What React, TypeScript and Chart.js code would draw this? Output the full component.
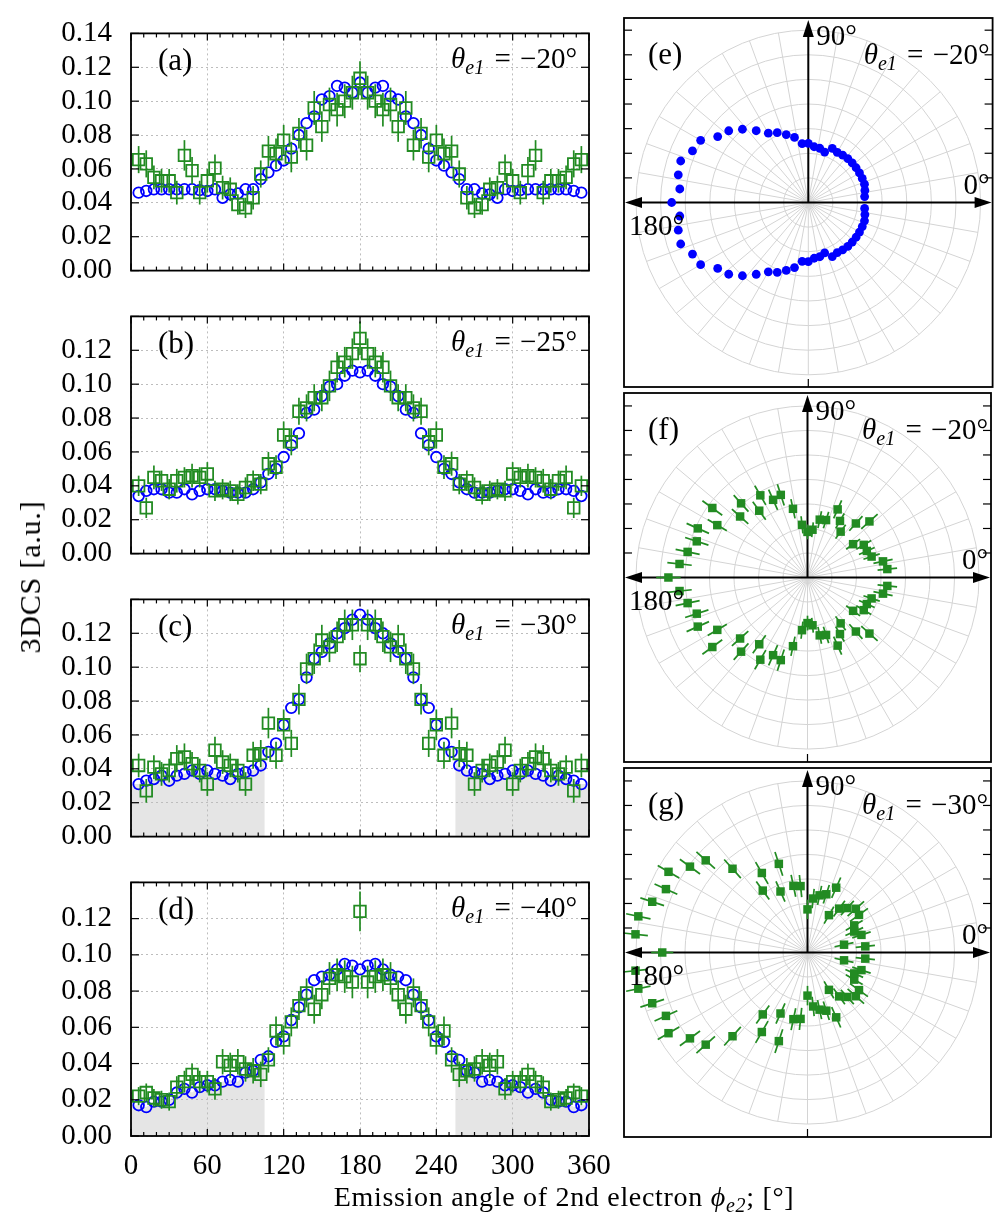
import React, { useEffect, useRef } from "react";
import { Chart, registerables } from "chart.js";
Chart.register(...registerables);

const FONT = '"Liberation Serif", "Times New Roman", serif';
const BLUE = "#0000ff";
const GREEN = "#228b22";

// ---------- data ----------
const ANGLES = [6,12,18,24,30,36,42,48,54,60,66,72,78,84,90,96,102,108,114,120,126,132,138,144,150,156,162,168,174,180,186,192,198,204,210,216,222,228,234,240,246,252,258,264,270,276,282,288,294,300,306,312,318,324,330,336,342,348,354];

const A_THEORY = [0.046,0.047,0.048,0.048,0.048,0.048,0.048,0.048,0.0475,0.047,0.048,0.043,0.045,0.0455,0.048,0.048,0.054,0.058,0.062,0.065,0.072,0.080,0.087,0.091,0.101,0.103,0.109,0.108,0.105,0.111,0.105,0.108,0.109,0.103,0.101,0.091,0.087,0.080,0.072,0.065,0.062,0.058,0.054,0.048,0.048,0.0455,0.045,0.043,0.048,0.047,0.0475,0.048,0.048,0.048,0.048,0.048,0.048,0.047,0.046];
const A_EXP = [0.0655,0.063,0.055,0.053,0.053,0.046,0.068,0.059,0.046,0.053,0.0605,0.049,0.048,0.039,0.037,0.043,0.057,0.0705,0.069,0.077,0.067,0.081,0.074,0.096,0.085,0.098,0.095,0.100,0.105,0.1135,0.105,0.100,0.095,0.098,0.085,0.096,0.074,0.081,0.067,0.077,0.069,0.0705,0.057,0.043,0.037,0.039,0.048,0.049,0.0605,0.053,0.046,0.059,0.068,0.046,0.053,0.053,0.055,0.063,0.0655];
const A_ERR = [0.008,0.008,0.007,0.007,0.007,0.007,0.009,0.008,0.007,0.007,0.008,0.007,0.007,0.006,0.006,0.007,0.008,0.009,0.009,0.009,0.009,0.009,0.009,0.010,0.009,0.010,0.010,0.010,0.010,0.010,0.010,0.010,0.010,0.010,0.009,0.010,0.009,0.009,0.009,0.009,0.009,0.009,0.008,0.007,0.006,0.006,0.007,0.007,0.008,0.007,0.007,0.008,0.009,0.007,0.007,0.007,0.007,0.008,0.008];

const B_THEORY = [0.034,0.037,0.038,0.038,0.036,0.036,0.038,0.035,0.037,0.038,0.038,0.037,0.036,0.036,0.036,0.038,0.042,0.047,0.050,0.057,0.064,0.071,0.083,0.085,0.093,0.0985,0.100,0.105,0.108,0.107,0.108,0.105,0.100,0.0985,0.093,0.085,0.083,0.071,0.064,0.057,0.050,0.047,0.042,0.038,0.036,0.036,0.036,0.037,0.038,0.038,0.037,0.035,0.038,0.036,0.036,0.038,0.038,0.037,0.034];
const B_EXP = [0.040,0.027,0.045,0.043,0.038,0.043,0.045,0.046,0.045,0.047,0.037,0.038,0.037,0.035,0.039,0.043,0.041,0.053,0.051,0.070,0.066,0.084,0.086,0.092,0.092,0.099,0.110,0.113,0.118,0.127,0.118,0.113,0.110,0.099,0.092,0.092,0.086,0.084,0.066,0.070,0.051,0.053,0.041,0.043,0.039,0.035,0.037,0.038,0.037,0.047,0.045,0.046,0.045,0.043,0.038,0.043,0.045,0.027,0.040];
const B_ERR = [0.006,0.006,0.007,0.006,0.006,0.007,0.006,0.007,0.006,0.007,0.006,0.006,0.006,0.006,0.006,0.006,0.006,0.007,0.007,0.008,0.008,0.008,0.008,0.008,0.008,0.009,0.009,0.009,0.009,0.010,0.009,0.009,0.009,0.009,0.008,0.008,0.008,0.008,0.008,0.008,0.007,0.007,0.006,0.006,0.006,0.006,0.006,0.006,0.006,0.007,0.006,0.007,0.006,0.007,0.006,0.006,0.007,0.006,0.006];

const C_THEORY = [0.031,0.033,0.034,0.036,0.033,0.036,0.037,0.039,0.037,0.039,0.037,0.036,0.034,0.037,0.038,0.039,0.042,0.050,0.055,0.066,0.076,0.081,0.094,0.105,0.109,0.114,0.120,0.123,0.128,0.131,0.128,0.123,0.120,0.114,0.109,0.105,0.094,0.081,0.076,0.066,0.055,0.050,0.042,0.039,0.038,0.037,0.034,0.036,0.037,0.039,0.037,0.039,0.037,0.036,0.033,0.036,0.034,0.033,0.031];
const C_EXP = [0.042,0.027,0.041,0.037,0.039,0.046,0.047,0.043,0.039,0.031,0.051,0.044,0.042,0.039,0.031,0.048,0.049,0.067,0.048,0.066,0.055,0.081,0.099,0.105,0.116,0.112,0.118,0.125,0.125,0.105,0.125,0.125,0.118,0.112,0.116,0.105,0.099,0.081,0.055,0.066,0.048,0.067,0.049,0.048,0.031,0.039,0.042,0.044,0.051,0.031,0.039,0.043,0.047,0.046,0.039,0.037,0.041,0.027,0.042];
const C_ERR = [0.007,0.007,0.007,0.007,0.007,0.008,0.008,0.007,0.007,0.007,0.008,0.007,0.007,0.007,0.007,0.008,0.008,0.009,0.008,0.009,0.008,0.009,0.009,0.009,0.009,0.009,0.009,0.009,0.009,0.008,0.009,0.009,0.009,0.009,0.009,0.009,0.009,0.009,0.008,0.009,0.008,0.009,0.008,0.008,0.007,0.007,0.007,0.007,0.008,0.007,0.007,0.007,0.008,0.008,0.007,0.007,0.007,0.007,0.007];

const D_THEORY = [0.017,0.016,0.019,0.019,0.020,0.024,0.026,0.024,0.027,0.028,0.028,0.030,0.031,0.030,0.035,0.036,0.042,0.044,0.052,0.055,0.064,0.071,0.078,0.086,0.088,0.089,0.092,0.095,0.094,0.092,0.094,0.095,0.092,0.089,0.088,0.086,0.078,0.071,0.064,0.055,0.052,0.044,0.042,0.036,0.035,0.030,0.031,0.030,0.028,0.028,0.027,0.024,0.026,0.024,0.020,0.019,0.019,0.016,0.017];
const D_EXP = [0.022,0.024,0.021,0.020,0.019,0.027,0.030,0.034,0.030,0.030,0.026,0.041,0.039,0.041,0.037,0.036,0.034,0.042,0.058,0.053,0.063,0.072,0.079,0.070,0.078,0.087,0.089,0.088,0.085,0.124,0.085,0.088,0.089,0.087,0.078,0.070,0.079,0.072,0.063,0.053,0.058,0.042,0.034,0.036,0.037,0.041,0.039,0.041,0.026,0.030,0.030,0.034,0.030,0.027,0.019,0.020,0.021,0.024,0.022];
const D_ERR = [0.005,0.005,0.005,0.005,0.005,0.006,0.006,0.006,0.006,0.006,0.006,0.007,0.007,0.007,0.007,0.007,0.007,0.007,0.008,0.008,0.008,0.008,0.008,0.008,0.008,0.009,0.009,0.009,0.009,0.011,0.009,0.009,0.009,0.009,0.008,0.008,0.008,0.008,0.008,0.008,0.008,0.007,0.007,0.007,0.007,0.007,0.007,0.007,0.006,0.006,0.006,0.006,0.006,0.006,0.005,0.005,0.005,0.005,0.005];

const X_TICKS = [0, 60, 120, 180, 240, 300, 360];
const Y_TICKS = [0, 0.02, 0.04, 0.06, 0.08, 0.1, 0.12, 0.14];
const SHADE_RANGES = [[0, 105], [255, 360]];
const LEFT_LETTERS = ["(a)", "(b)", "(c)", "(d)"];
const LEFT_THETAS = ["−20", "−25", "−30", "−40"];
const POLAR_LETTERS = ["(e)", "(f)", "(g)"];
const POLAR_THETAS = ["−20", "−20", "−30"];
const POLAR_RMAX = [0.14, 0.14, 0.124];
const X_TITLE = "Emission angle of 2nd electron ";
const Y_TITLE = "3DCS [a.u.]";

// ---------- helpers ----------
function line(ctx: CanvasRenderingContext2D, x1: number, y1: number, x2: number, y2: number) {
  ctx.beginPath();
  ctx.moveTo(x1, y1);
  ctx.lineTo(x2, y2);
  ctx.stroke();
}

function drawTheta(ctx: CanvasRenderingContext2D, xRight: number, yBase: number, val: string) {
  const it = `italic 29px ${FONT}`;
  const sub = `italic 20px ${FONT}`;
  const big = `29px ${FONT}`;
  const eq = " = ";
  const rest = `${val}°`;
  ctx.font = it; const w1 = ctx.measureText("θ").width;
  ctx.font = sub; const w2 = ctx.measureText("e1").width;
  ctx.font = big; const w3 = ctx.measureText(eq).width + 4; const w4 = ctx.measureText(rest).width;
  let x = xRight - (w1 + w2 + 1 + w3 + w4);
  ctx.fillStyle = "#000";
  ctx.textAlign = "left";
  ctx.textBaseline = "alphabetic";
  ctx.font = it; ctx.fillText("θ", x, yBase); x += w1;
  ctx.font = sub; ctx.fillText("e1", x, yBase + 6); x += w2 + 1;
  ctx.font = big; ctx.fillText(eq, x + 2, yBase); x += w3;
  ctx.fillText(rest, x, yBase);
}

function curvePoints(th: number[], lo: number, hi: number) {
  const xs = [0, ...ANGLES, 360];
  const ys = [th[0], ...th, th[th.length - 1]];
  const interp = (v: number) => {
    for (let i = 0; i < xs.length - 1; i++) {
      if (v >= xs[i] && v <= xs[i + 1]) {
        const t = (v - xs[i]) / (xs[i + 1] - xs[i]);
        return ys[i] + t * (ys[i + 1] - ys[i]);
      }
    }
    return ys[ys.length - 1];
  };
  const out: number[][] = [[lo, interp(lo)]];
  xs.forEach((xv, i) => { if (xv > lo && xv < hi) out.push([xv, ys[i]]); });
  out.push([hi, interp(hi)]);
  return out;
}

// ---------- left panels ----------
type LeftProps = { th: number[]; ex: number[]; err: number[]; top: number; idx: number; showTop: boolean; showX: boolean; shade: boolean };

function LeftPanel(p: LeftProps) {
  const ref = useRef<HTMLCanvasElement>(null);
  const PAD_T = 20, PLOT_H = 270, PAD_R = 40;
  const PAD_B = p.showX ? 62 : 20;
  const W = 589 + PAD_R;
  const H = PAD_T + PLOT_H + PAD_B;
  useEffect(() => {
    const plugin = {
      id: "leftDeco",
      beforeDraw(chart: any) {
        if (!p.shade) return;
        const { ctx, scales: { x, y } } = chart;
        ctx.save();
        ctx.fillStyle = "#e5e5e5";
        for (const [lo, hi] of SHADE_RANGES) {
          const pts = curvePoints(p.th, lo, hi);
          ctx.beginPath();
          ctx.moveTo(x.getPixelForValue(lo), y.getPixelForValue(0));
          for (const [px, py] of pts) ctx.lineTo(x.getPixelForValue(px), y.getPixelForValue(py));
          ctx.lineTo(x.getPixelForValue(hi), y.getPixelForValue(0));
          ctx.closePath();
          ctx.fill();
        }
        ctx.restore();
      },
      afterDatasetDraw(chart: any, args: any) {
        if (args.index !== 0) return;
        const { ctx, scales: { x, y } } = chart;
        ctx.save();
        ctx.strokeStyle = GREEN;
        ctx.lineWidth = 1.7;
        ANGLES.forEach((a, i) => {
          const px = x.getPixelForValue(a);
          line(ctx, px, y.getPixelForValue(p.ex[i] - p.err[i]), px, y.getPixelForValue(p.ex[i] + p.err[i]));
        });
        ctx.restore();
      },
      afterDraw(chart: any) {
        const { ctx, chartArea: a, scales: { x, y } } = chart;
        ctx.save();
        ctx.strokeStyle = "#000";
        ctx.lineWidth = 1.2;
        for (let v = 0; v <= 360; v += 10) {
          const px = x.getPixelForValue(v);
          const len = v % 60 === 0 ? 7 : 4;
          line(ctx, px, a.top, px, a.top + len);
          line(ctx, px, a.bottom, px, a.bottom - len);
        }
        for (const v of Y_TICKS) {
          const py = y.getPixelForValue(v);
          line(ctx, a.left, py, a.left + 8, py);
          line(ctx, a.right - 8, py, a.right, py);
        }
        ctx.lineWidth = 1.8;
        ctx.strokeRect(a.left, a.top, a.right - a.left, a.bottom - a.top);
        ctx.fillStyle = "#000";
        if (p.showX) {
          ctx.font = `29px ${FONT}`;
          ctx.textAlign = "center";
          ctx.textBaseline = "middle";
          for (const v of X_TICKS) ctx.fillText(String(v), x.getPixelForValue(v), a.bottom + 30);
        }
        ctx.font = `31px ${FONT}`;
        ctx.textAlign = "left";
        ctx.textBaseline = "alphabetic";
        ctx.fillText(LEFT_LETTERS[p.idx], a.left + 27, a.top + 37);
        drawTheta(ctx, a.right - 12, a.top + 35, LEFT_THETAS[p.idx]);
        ctx.restore();
      },
    };
    const chart = new Chart(ref.current as HTMLCanvasElement, {
      type: "scatter",
      data: {
        datasets: [
          {
            label: "theory",
            data: ANGLES.map((a, i) => ({ x: a, y: p.th[i] })),
            pointStyle: "circle",
            pointRadius: 5.3,
            pointBorderWidth: 1.8,
            pointBorderColor: BLUE,
            pointBackgroundColor: "rgba(0,0,0,0)",
            borderColor: BLUE,
            backgroundColor: "rgba(0,0,0,0)",
            showLine: false,
            order: 2,
          },
          {
            label: "experiment",
            data: ANGLES.map((a, i) => ({ x: a, y: p.ex[i] })),
            pointStyle: "rect",
            pointRadius: 8.2,
            pointBorderWidth: 1.8,
            pointBorderColor: GREEN,
            pointBackgroundColor: "rgba(0,0,0,0)",
            borderColor: GREEN,
            backgroundColor: "rgba(0,0,0,0)",
            showLine: false,
            order: 1,
          },
        ],
      },
      options: {
        animation: false,
        responsive: false,
        maintainAspectRatio: false,
        events: [],
        layout: { padding: { top: PAD_T, right: PAD_R, left: 0, bottom: PAD_B } },
        plugins: { legend: { display: false }, tooltip: { enabled: false } },
        scales: {
          x: {
            type: "linear",
            min: 0,
            max: 360,
            afterBuildTicks: (s: any) => { s.ticks = X_TICKS.map((v) => ({ value: v })); },
            afterFit: (s: any) => { s.height = 0; },
            ticks: { display: false, autoSkip: false },
            grid: { color: "#bdbdbd", lineWidth: 1, drawTicks: false },
            border: { display: false, dash: [2, 3] },
          },
          y: {
            type: "linear",
            min: 0,
            max: 0.14,
            afterBuildTicks: (s: any) => { s.ticks = Y_TICKS.map((v) => ({ value: v })); },
            afterFit: (s: any) => { s.width = 131; },
            ticks: {
              autoSkip: false,
              font: { family: FONT, size: 29 },
              color: "#000",
              padding: 19,
              callback: (v: any) => {
                const n = Number(v);
                if (!p.showTop && Math.abs(n - 0.14) < 1e-6) return "";
                return n.toFixed(2);
              },
            },
            grid: { color: "#bdbdbd", lineWidth: 1, drawTicks: false },
            border: { display: false, dash: [2, 3] },
          },
        },
      } as any,
      plugins: [plugin],
    });
    return () => chart.destroy();
  }, []);
  return (
    <canvas
      ref={ref}
      width={W}
      height={H}
      style={{ position: "absolute", left: 0, top: p.top - PAD_T, width: W, height: H }}
    />
  );
}

// ---------- polar panels ----------
type PolarProps = { r: number[]; err?: number[]; idx: number; top: number; kind: "circle" | "rect" };

function PolarPanel(p: PolarProps) {
  const ref = useRef<HTMLCanvasElement>(null);
  const FRAME = 369, PADL = 14, PADT = 10;
  const W = 387, H = FRAME + 2 * PADT;
  const rMax = POLAR_RMAX[p.idx];
  const half = (rMax * (FRAME / 2)) / 172.5;
  useEffect(() => {
    const rad = (d: number) => (d * Math.PI) / 180;
    const arrow = (ctx: CanvasRenderingContext2D, tx: number, ty: number, dx: number, dy: number) => {
      const L = 17, Wd = 5.5;
      const bx = tx - dx * L, by = ty - dy * L;
      ctx.beginPath();
      ctx.moveTo(tx, ty);
      ctx.lineTo(bx - dy * Wd, by + dx * Wd);
      ctx.lineTo(bx + dy * Wd, by - dx * Wd);
      ctx.closePath();
      ctx.fill();
    };
    const plugin = {
      id: "polarDeco",
      beforeDatasetsDraw(chart: any) {
        const { ctx, chartArea: a, scales: { x, y } } = chart;
        const cx = x.getPixelForValue(0), cy = y.getPixelForValue(0);
        const pr = x.getPixelForValue(rMax) - cx;
        ctx.save();
        ctx.strokeStyle = "#d4d4d4";
        ctx.lineWidth = 1;
        for (let k = 1; k <= 7; k++) {
          ctx.beginPath();
          ctx.arc(cx, cy, (pr * k) / 7, 0, Math.PI * 2);
          ctx.stroke();
        }
        for (let d = 0; d < 360; d += 10) {
          line(ctx, cx, cy, cx + pr * Math.cos(rad(d)), cy - pr * Math.sin(rad(d)));
        }
        ctx.strokeStyle = "#000";
        ctx.fillStyle = "#000";
        ctx.lineWidth = 2;
        line(ctx, a.left + 8, cy, a.right - 8, cy);
        line(ctx, cx, cy, cx, a.top + 8);
        arrow(ctx, a.left + 1, cy, -1, 0);
        arrow(ctx, a.right - 1, cy, 1, 0);
        arrow(ctx, cx, a.top + 2, 0, -1);
        if (p.err) {
          ctx.strokeStyle = GREEN;
          ctx.lineWidth = 1.7;
          ANGLES.forEach((ang, i) => {
            const r0 = p.r[i] - (p.err as number[])[i];
            const r1 = p.r[i] + (p.err as number[])[i];
            const c = Math.cos(rad(ang)), s = Math.sin(rad(ang));
            line(ctx, x.getPixelForValue(r0 * c), y.getPixelForValue(r0 * s), x.getPixelForValue(r1 * c), y.getPixelForValue(r1 * s));
          });
        }
        ctx.restore();
      },
      afterDraw(chart: any) {
        const { ctx, chartArea: a, scales: { x, y } } = chart;
        const cx = x.getPixelForValue(0), cy = y.getPixelForValue(0);
        const pr = x.getPixelForValue(rMax) - cx;
        ctx.save();
        ctx.strokeStyle = "#000";
        ctx.lineWidth = 1.2;
        for (let k = 1; k <= 7; k++) {
          const yy = cy - (pr * k) / 7;
          line(ctx, a.left, yy, a.left + 8, yy);
          line(ctx, a.right - 8, yy, a.right, yy);
        }
        line(ctx, cx, a.bottom, cx, a.bottom - 8);
        ctx.lineWidth = 1.8;
        ctx.strokeRect(a.left, a.top, a.right - a.left, a.bottom - a.top);
        ctx.fillStyle = "#000";
        ctx.textBaseline = "alphabetic";
        ctx.textAlign = "left";
        ctx.font = `31px ${FONT}`;
        ctx.fillText(POLAR_LETTERS[p.idx], a.left + 24, a.top + 46);
        ctx.font = `29px ${FONT}`;
        ctx.fillText("90°", cx + 8, a.top + 27);
        ctx.fillText("180°", a.left + 5, cy + 32);
        ctx.textAlign = "right";
        ctx.fillText("0°", a.right - 3, cy - 9);
        drawTheta(ctx, a.right - 3, a.top + 46, POLAR_THETAS[p.idx]);
        ctx.restore();
      },
    };
    const color = p.kind === "circle" ? BLUE : GREEN;
    const chart = new Chart(ref.current as HTMLCanvasElement, {
      type: "scatter",
      data: {
        datasets: [
          {
            label: "polar",
            data: ANGLES.map((ang, i) => ({ x: p.r[i] * Math.cos(rad(ang)), y: p.r[i] * Math.sin(rad(ang)) })),
            pointStyle: p.kind,
            pointRadius: p.kind === "circle" ? 4.4 : 6,
            pointBorderWidth: 0,
            pointBackgroundColor: color,
            pointBorderColor: color,
            backgroundColor: color,
            borderColor: color,
            showLine: false,
          },
        ],
      },
      options: {
        animation: false,
        responsive: false,
        maintainAspectRatio: false,
        events: [],
        layout: { padding: { left: PADL, top: PADT, right: W - PADL - FRAME, bottom: PADT } },
        plugins: { legend: { display: false }, tooltip: { enabled: false } },
        scales: {
          x: { type: "linear", display: false, min: -half, max: half },
          y: { type: "linear", display: false, min: -half, max: half },
        },
      } as any,
      plugins: [plugin],
    });
    return () => chart.destroy();
  }, []);
  return (
    <canvas
      ref={ref}
      width={W}
      height={H}
      style={{ position: "absolute", left: 610, top: p.top - PADT, width: W, height: H }}
    />
  );
}

export default function App() {
  return (
    <div style={{ position: "absolute", left: 0, top: 0, width: 997, height: 1228, background: "#fff", fontFamily: FONT, overflow: "hidden" }}>
      <LeftPanel th={A_THEORY} ex={A_EXP} err={A_ERR} top={17} idx={0} showTop={true} showX={false} shade={false} />
      <LeftPanel th={B_THEORY} ex={B_EXP} err={B_ERR} top={300} idx={1} showTop={false} showX={false} shade={false} />
      <LeftPanel th={C_THEORY} ex={C_EXP} err={C_ERR} top={583} idx={2} showTop={false} showX={false} shade={true} />
      <LeftPanel th={D_THEORY} ex={D_EXP} err={D_ERR} top={866} idx={3} showTop={false} showX={true} shade={true} />
      <PolarPanel r={A_THEORY} idx={0} top={18} kind="circle" />
      <PolarPanel r={A_EXP} err={A_ERR} idx={1} top={393} kind="rect" />
      <PolarPanel r={C_EXP} err={C_ERR} idx={2} top={768} kind="rect" />
      <div
        style={{
          position: "absolute",
          left: 30,
          top: 577,
          transform: "translate(-50%, -50%) rotate(-90deg)",
          whiteSpace: "nowrap",
          fontSize: 30,
          letterSpacing: 0.8,
          lineHeight: "34px",
        }}
      >
        {Y_TITLE}
      </div>
      <div
        style={{
          position: "absolute",
          left: 564,
          top: 1180,
          transform: "translateX(-50%)",
          whiteSpace: "nowrap",
          fontSize: 28,
          letterSpacing: 0.7,
          lineHeight: "34px",
        }}
      >
        {X_TITLE}
        <i>ϕ</i>
        <i style={{ fontSize: 20, position: "relative", top: 6 }}>e2</i>
        {"; [°]"}
      </div>
    </div>
  );
}
